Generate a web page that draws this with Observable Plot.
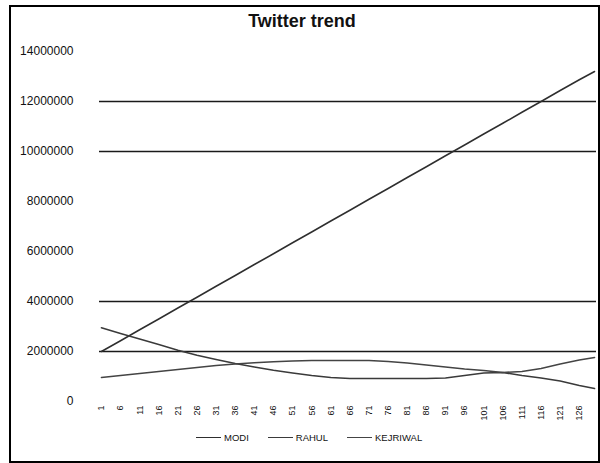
<!DOCTYPE html>
<html>
<head>
<meta charset="utf-8">
<script src="https://cdn.jsdelivr.net/npm/d3@7"></script>
<script src="https://cdn.jsdelivr.net/npm/@observablehq/plot@0.6"></script>
<style>
  html, body { margin: 0; padding: 0; background: #fff; }
  #frame {
    position: relative; width: 600px; height: 463px; overflow: hidden;
    font-family: "Liberation Sans", Arial, sans-serif; color: #111;
  }
  #border {
    position: absolute; left: 9px; top: 5px; width: 587px; height: 454px;
    border: 2px solid #000; pointer-events: none;
  }
  #title {
    position: absolute; top: 11px; left: 0; width: 604px; text-align: center;
    font-weight: bold; font-size: 18px; letter-spacing: 0;
  }
  #chart { position: absolute; top: 36px; left: 0; }
  #legend {
    position: absolute; top: 430px; left: 196px; display: flex; gap: 19px;
    font-size: 9.5px; align-items: center; height: 14px;
  }
  .item { display: flex; align-items: center; gap: 3px; }
  .swatch { width: 25px; height: 0; border-top: 1.6px solid #333; }
</style>
</head>
<body>
<div id="frame">
  <div id="border"></div>
  <div id="title">Twitter trend</div>
  <div id="chart"></div>
  <div id="legend"></div>
</div>
<script>
// Days on which the counts are sampled
const days = [1, 6, 11, 16, 21, 26, 31, 36, 41, 46, 51, 56, 61, 66, 71, 76, 81, 86, 91, 96, 101, 106, 111, 116, 121, 126, 130];

// Cumulative tweet counts per candidate
const modi = [2000000, 2430000, 2870000, 3300000, 3740000, 4170000, 4610000, 5040000, 5480000, 5910000,
              6350000, 6780000, 7220000, 7650000, 8090000, 8520000, 8960000, 9390000, 9830000, 10260000,
              10700000, 11130000, 11570000, 12000000, 12440000, 12870000, 13200000];
const rahul = [2950000, 2720000, 2500000, 2280000, 2050000, 1850000, 1680000, 1520000, 1380000, 1250000,
               1140000, 1040000, 960000, 920000, 920000, 920000, 920000, 920000, 940000, 1040000,
               1140000, 1160000, 1040000, 940000, 820000, 640000, 520000];
const kejriwal = [960000, 1040000, 1120000, 1200000, 1280000, 1360000, 1440000, 1500000, 1550000, 1590000,
                  1620000, 1640000, 1640000, 1640000, 1640000, 1600000, 1540000, 1460000, 1380000, 1300000,
                  1240000, 1160000, 1200000, 1320000, 1500000, 1660000, 1760000];

const seriesNames = ["MODI", "RAHUL", "KEJRIWAL"];
const seriesColors = ["#2e2e2e", "#3a3a3a", "#444444"];

// Axis ticks
const xTickLabels = [1, 6, 11, 16, 21, 26, 31, 36, 41, 46, 51, 56, 61, 66, 71, 76, 81, 86, 91, 96, 101, 106, 111, 116, 121, 126];
const yTicks = [0, 2000000, 4000000, 6000000, 8000000, 10000000, 12000000, 14000000];
const gridValues = [2000000, 4000000, 10000000, 12000000];

const seriesValues = [modi, rahul, kejriwal];
const rows = seriesNames.flatMap((name, s) =>
  days.map((day, i) => ({ name, day, value: seriesValues[s][i] }))
);

const chart = Plot.plot({
  width: 600,
  height: 395,
  marginTop: 15,
  marginBottom: 30,
  marginLeft: 99,
  marginRight: 4,
  style: { fontFamily: "Liberation Sans, Arial, sans-serif", color: "#111", background: "transparent" },
  x: { domain: [0.5, 130.5], label: null },
  y: { domain: [0, 14000000], label: null },
  color: { domain: seriesNames, range: seriesColors },
  marks: [
    Plot.ruleY(gridValues, { stroke: "#1a1a1a", strokeWidth: 1.7 }),
    Plot.lineY(rows, { x: "day", y: "value", z: "name", stroke: "name", strokeWidth: 1.5 }),
    Plot.axisY(yTicks, { tickSize: 0, tickPadding: 26, tickFormat: d => String(d), fontSize: 12, label: null }),
    Plot.axisX(xTickLabels, { tickSize: 0, tickPadding: 4, tickRotate: -90, tickFormat: d => String(d), fontSize: 9, label: null })
  ]
});
document.getElementById("chart").appendChild(chart);

// Legend with line swatches
const legend = document.getElementById("legend");
seriesNames.forEach((name, i) => {
  const item = document.createElement("div");
  item.className = "item";
  const sw = document.createElement("div");
  sw.className = "swatch";
  sw.style.borderTopColor = seriesColors[i];
  const label = document.createElement("span");
  label.textContent = name;
  item.appendChild(sw);
  item.appendChild(label);
  legend.appendChild(item);
});
</script>
</body>
</html>
